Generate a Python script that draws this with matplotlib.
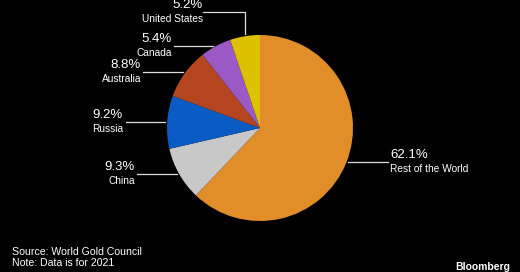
import matplotlib
matplotlib.use("Agg")
import matplotlib.pyplot as plt

categories = ["Rest of the World", "China", "Russia", "Australia", "Canada", "United States"]
shares = [62.1, 9.3, 9.2, 8.8, 5.4, 5.2]
pct_labels = ["62.1%", "9.3%", "9.2%", "8.8%", "5.4%", "5.2%"]
colors = ["#E08D2A", "#C8C8C8", "#0A5BC4", "#B5451E", "#9B59C6", "#DDC100"]

W, H = 520, 272
fig = plt.figure(figsize=(W / 100, H / 100), dpi=100, facecolor="black")
ax = fig.add_axes([0, 0, 1, 1])
ax.set_facecolor("black")

def Y(y):
    return H - y

cx, cy, r = 260, 128, 93
ax.pie(shares, colors=colors, startangle=90, counterclock=False,
       center=(cx, Y(cy)), radius=r, frame=True,
       wedgeprops=dict(linewidth=0))
ax.set_xlim(0, W)
ax.set_ylim(0, H)
ax.set_aspect("equal")
ax.axis("off")

fam = "Liberation Sans"
lc = "#DDDDDD"

# label layout: (line x0, line x1, line y, text anchor x, ha)
layout = {
    "Rest of the World": (348, 388, 162, 390, "left"),
    "China": (137, 177, 174, 135, "right"),
    "Russia": (126, 165, 122, 123, "right"),
    "Australia": (143, 183, 72, 141, "right"),
    "Canada": (174, 213, 46, 172, "right"),
}
for cat, pct in zip(categories, pct_labels):
    if cat in layout:
        x0, x1, ly, tx, ha = layout[cat]
        ax.plot([x0, x1], [Y(ly), Y(ly)], color=lc, lw=0.9)
        ax.text(tx, Y(ly - 1), pct, color="white", fontsize=9.5, family=fam,
                ha=ha, va="bottom")
        ax.text(tx, Y(ly + 2), cat, color="white", fontsize=7.3, family=fam,
                ha=ha, va="top")

# United States
ax.plot([203, 245, 245], [Y(12), Y(12), Y(34)], color=lc, lw=0.9)
ax.text(203, Y(11), pct_labels[5], color="white", fontsize=9.5, family=fam,
        ha="right", va="bottom")
ax.text(203, Y(14), categories[5], color="white", fontsize=7.3, family=fam,
        ha="right", va="top")

ax.text(12, Y(252), "Source: World Gold Council", color="white", fontsize=7.6,
        family=fam, va="center", ha="left")
ax.text(12, Y(263), "Note: Data is for 2021", color="white", fontsize=7.6,
        family=fam, va="center", ha="left")
ax.text(510, Y(267), "Bloomberg", color="white", fontsize=7.5, family=fam,
        fontweight="bold", va="center", ha="right")

fig.savefig("out.png", dpi=100, facecolor="black")
